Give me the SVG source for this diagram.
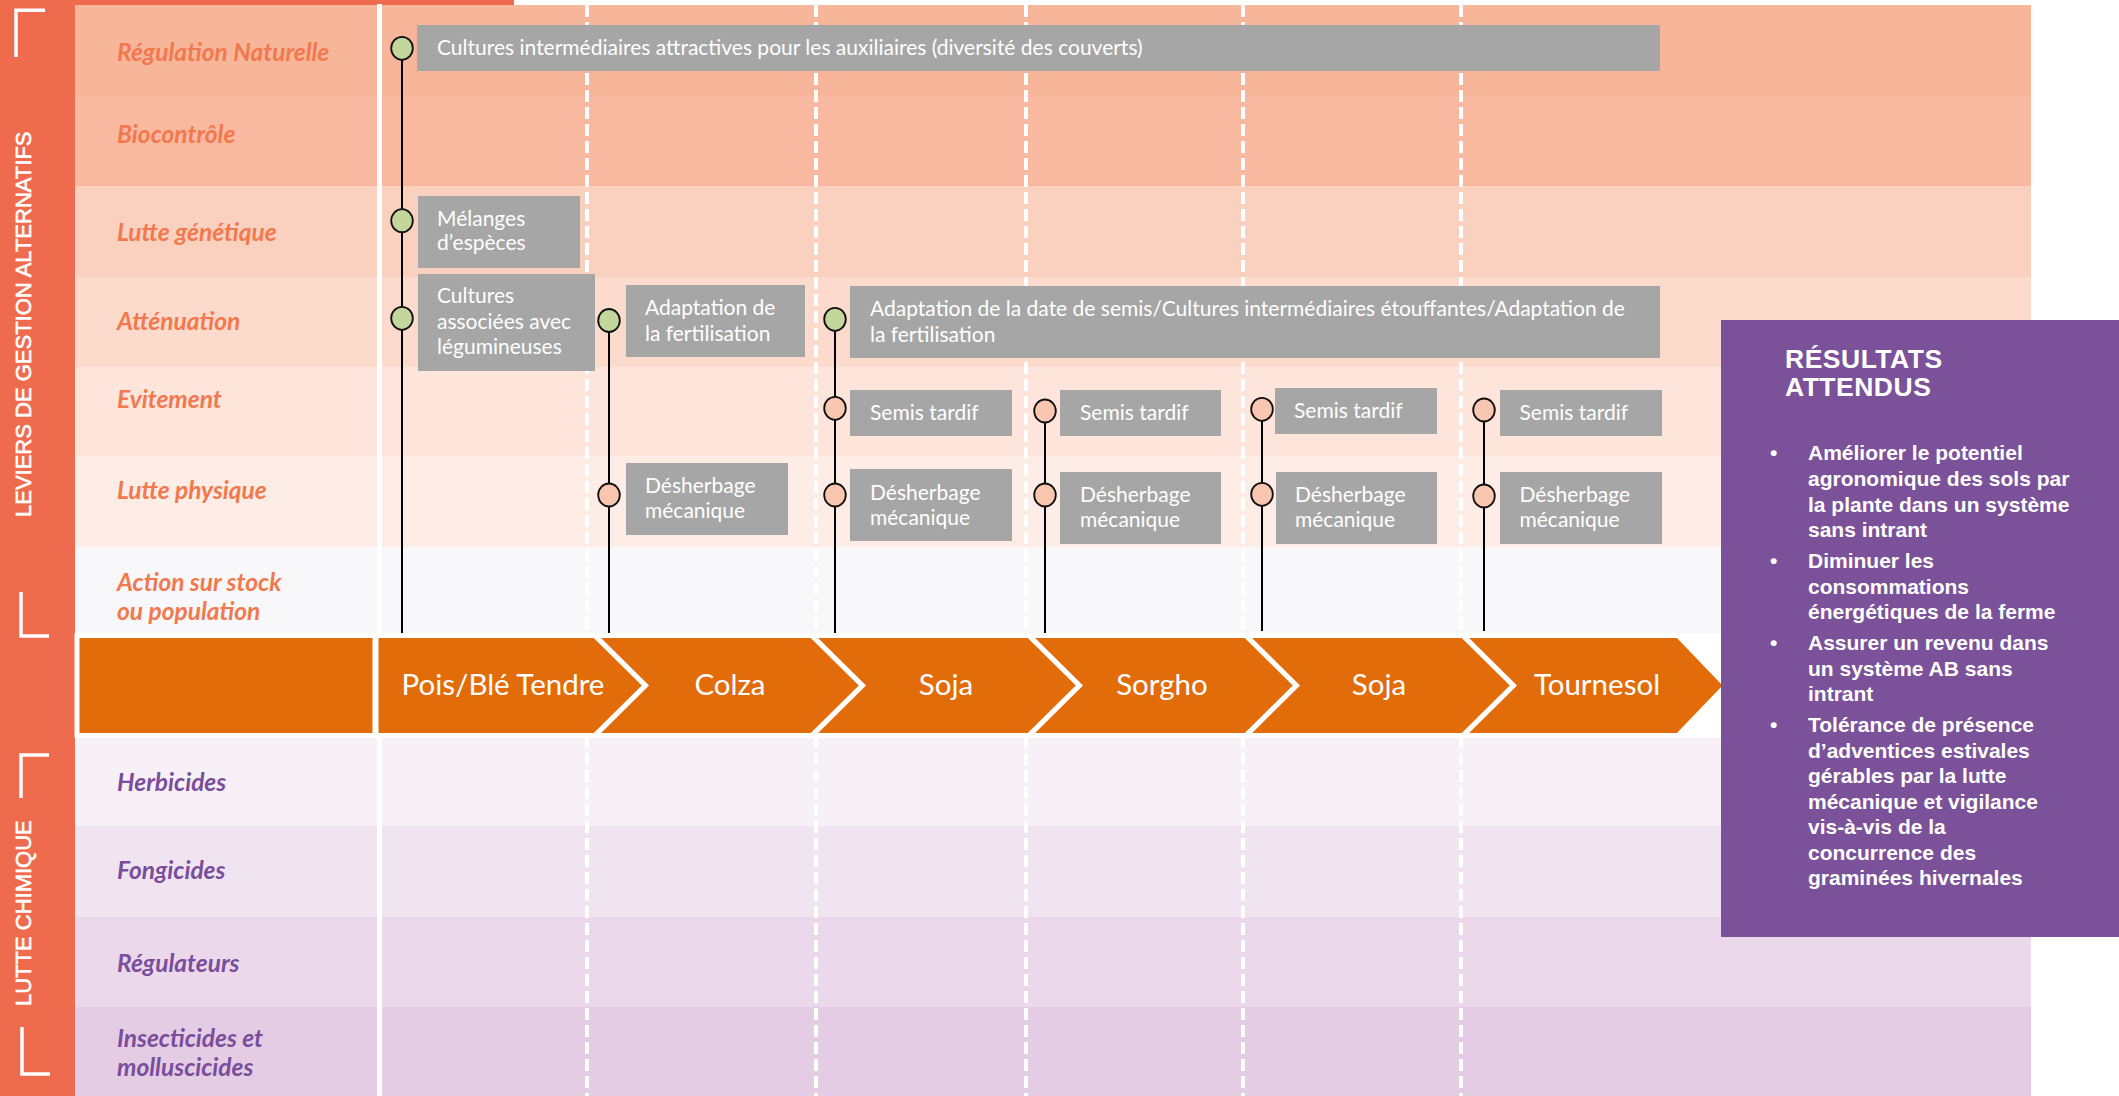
<svg xmlns="http://www.w3.org/2000/svg" width="2119" height="1096" viewBox="0 0 2119 1096">
  <defs>
    <style>
      .lbl{font-family:Lato,"Liberation Sans",sans-serif;font-style:italic;font-weight:700;font-size:24.5px}
      .lo{fill:#F2784E}
      .lp{fill:#7A4E9C}
      .box{fill:#A6A6A6}
      .bt{font-family:Lato,"Liberation Sans",sans-serif;font-size:21px;fill:#FFFFFF}
      .chev{fill:#E36C0A;stroke:#FFFFFF;stroke-width:5;stroke-linejoin:miter}
      .ct{font-family:Lato,"Liberation Sans",sans-serif;font-size:29.5px;fill:#FFFFFF;text-anchor:middle}
      .stem{stroke:#000000;stroke-width:2}
      .dg{fill:#C3D69B;stroke:#111111;stroke-width:1.8}
      .dp{fill:#F9C6AF;stroke:#111111;stroke-width:1.8}
      .side{font-family:"Liberation Sans",sans-serif;font-size:22px;fill:#FFFFFF;stroke:#FFFFFF;stroke-width:0.6}
      .brk{fill:none;stroke:#FFFFFF;stroke-width:3.5}
      .dash{stroke:#FFFFFF;stroke-width:4;stroke-dasharray:12 5}
      .res{font-family:"Liberation Sans",Arial,sans-serif;font-weight:700;fill:#FFFFFF}
    </style>
  </defs>

  <rect x="0" y="0" width="2119" height="1096" fill="#FFFFFF"/>

  <!-- row bands -->
  <g id="bands">
    <rect x="75" y="5" width="1956" height="91" fill="#F7B69A"/>
    <rect x="75" y="96" width="1956" height="90" fill="#F8B9A0"/>
    <rect x="75" y="186" width="1956" height="91" fill="#FAD0BF"/>
    <rect x="75" y="277" width="1956" height="90" fill="#FCDBCC"/>
    <rect x="75" y="367" width="1956" height="89" fill="#FDE5DC"/>
    <rect x="75" y="456" width="1956" height="91" fill="#FDEDE6"/>
    <rect x="75" y="547" width="1956" height="86" fill="#F8F7F9"/>
    <rect x="75" y="738" width="1956" height="88" fill="#F7F0F7"/>
    <rect x="75" y="826" width="1956" height="91" fill="#F1E4F1"/>
    <rect x="75" y="917" width="1956" height="90" fill="#EBD9EB"/>
    <rect x="75" y="1007" width="1956" height="89" fill="#E4CCE4"/>
  </g>

  <!-- left side bar -->
  <g id="sidebar">
    <rect x="0" y="0" width="75" height="1096" fill="#EE6B4D"/>
    <rect x="0" y="0" width="514" height="5" fill="#EE6B4D"/>
    <path class="brk" d="M45,10.3 H16 V57"/>
    <path class="brk" d="M21,592 V636 H49"/>
    <path class="brk" d="M49,755 H21 V798"/>
    <path class="brk" d="M22,1027 V1074 H50"/>
    <text class="side" transform="translate(30.5,517) rotate(-90)">LEVIERS DE GESTION ALTERNATIFS</text>
    <text class="side" transform="translate(31,1006) rotate(-90)">LUTTE CHIMIQUE</text>
  </g>

  <!-- season dividers -->
  <g id="dividers">
    <line class="dash" x1="587" y1="5" x2="587" y2="1096"/>
    <line class="dash" x1="816" y1="5" x2="816" y2="1096"/>
    <line class="dash" x1="1026" y1="5" x2="1026" y2="1096"/>
    <line class="dash" x1="1243" y1="5" x2="1243" y2="1096"/>
    <line class="dash" x1="1461" y1="5" x2="1461" y2="1096"/>
    <line x1="379.5" y1="4" x2="379.5" y2="1096" stroke="#FFFFFF" stroke-width="5"/>
  </g>

  <!-- row labels -->
  <g id="labels">
    <text class="lbl lo" x="117" y="61">Régulation Naturelle</text>
    <text class="lbl lo" x="117" y="142.5">Biocontrôle</text>
    <text class="lbl lo" x="117" y="240.5">Lutte génétique</text>
    <text class="lbl lo" x="117" y="330">Atténuation</text>
    <text class="lbl lo" x="117" y="407.5">Evitement</text>
    <text class="lbl lo" x="117" y="499">Lutte physique</text>
    <text class="lbl lo" x="117" y="590.5">Action sur stock</text>
    <text class="lbl lo" x="117" y="619.5">ou population</text>
    <text class="lbl lp" x="117" y="790.5">Herbicides</text>
    <text class="lbl lp" x="117" y="878.5">Fongicides</text>
    <text class="lbl lp" x="117" y="971.5">Régulateurs</text>
    <text class="lbl lp" x="117" y="1047">Insecticides et</text>
    <text class="lbl lp" x="117" y="1076">molluscicides</text>
  </g>

  <!-- crop rotation -->
  <g id="rotation">
    <rect x="75" y="633" width="1956" height="105" fill="#FFFFFF"/>
    <rect class="chev" x="77" y="635.5" width="298" height="100"/>
    <g id="crop-pois-ble">
      <polygon class="chev" points="376,635.5 595,635.5 645.5,685.5 595,735.5 376,735.5"/>
      <text class="ct" x="503" y="695">Pois/Blé Tendre</text>
    </g>
    <g id="crop-colza">
      <polygon class="chev" points="595,635.5 812,635.5 862.5,685.5 812,735.5 595,735.5 645.5,685.5"/>
      <text class="ct" x="730" y="695">Colza</text>
    </g>
    <g id="crop-soja-1">
      <polygon class="chev" points="812,635.5 1029,635.5 1079.5,685.5 1029,735.5 812,735.5 862.5,685.5"/>
      <text class="ct" x="946" y="695">Soja</text>
    </g>
    <g id="crop-sorgho">
      <polygon class="chev" points="1029,635.5 1246,635.5 1296.5,685.5 1246,735.5 1029,735.5 1079.5,685.5"/>
      <text class="ct" x="1162" y="695">Sorgho</text>
    </g>
    <g id="crop-soja-2">
      <polygon class="chev" points="1246,635.5 1463,635.5 1513.5,685.5 1463,735.5 1246,735.5 1296.5,685.5"/>
      <text class="ct" x="1379" y="695">Soja</text>
    </g>
    <g id="crop-tournesol">
      <polygon class="chev" points="1463,635.5 1678,635.5 1726,685.5 1678,735.5 1463,735.5 1513.5,685.5"/>
      <text class="ct" x="1597" y="695">Tournesol</text>
    </g>
  </g>

  <!-- practice boxes -->
  <g id="n-cultures-intermediaires">
    <rect class="box" x="417" y="25" width="1243" height="46"/>
    <text class="bt" x="437" y="54.5">Cultures intermédiaires attractives pour les auxiliaires (diversité des couverts)</text>
  </g>
  <g id="n-melanges">
    <rect class="box" x="418" y="196" width="162" height="72"/>
    <text class="bt" x="437" y="226">Mélanges</text>
    <text class="bt" x="437" y="250">d’espèces</text>
  </g>
  <g id="n-cultures-associees">
    <rect class="box" x="418" y="274" width="177" height="97"/>
    <text class="bt" x="437" y="303">Cultures</text>
    <text class="bt" x="437" y="329">associées avec</text>
    <text class="bt" x="437" y="354">légumineuses</text>
  </g>
  <g id="n-fertilisation-colza">
    <rect class="box" x="626" y="285" width="179" height="72"/>
    <text class="bt" x="645" y="315">Adaptation de</text>
    <text class="bt" x="645" y="340.5">la fertilisation</text>
  </g>
  <g id="n-adaptation-semis">
    <rect class="box" x="850" y="286" width="810" height="72"/>
    <text class="bt" x="870" y="316">Adaptation de la date de semis/Cultures intermédiaires étouffantes/Adaptation de</text>
    <text class="bt" x="870" y="341.5">la fertilisation</text>
  </g>
  <g id="n-semis-soja-1">
    <rect class="box" x="850" y="390" width="162" height="46"/>
    <text class="bt" x="870" y="420">Semis tardif</text>
  </g>
  <g id="n-semis-sorgho">
    <rect class="box" x="1060" y="390" width="161" height="46"/>
    <text class="bt" x="1080" y="420">Semis tardif</text>
  </g>
  <g id="n-semis-soja-2">
    <rect class="box" x="1275" y="388" width="162" height="46"/>
    <text class="bt" x="1294" y="418">Semis tardif</text>
  </g>
  <g id="n-semis-tournesol">
    <rect class="box" x="1500" y="390" width="162" height="46"/>
    <text class="bt" x="1519.5" y="420">Semis tardif</text>
  </g>
  <g id="n-desherbage-colza">
    <rect class="box" x="626" y="463" width="162" height="72"/>
    <text class="bt" x="645" y="493">Désherbage</text>
    <text class="bt" x="645" y="518">mécanique</text>
  </g>
  <g id="n-desherbage-soja-1">
    <rect class="box" x="850" y="469" width="162" height="72"/>
    <text class="bt" x="870" y="500">Désherbage</text>
    <text class="bt" x="870" y="524.5">mécanique</text>
  </g>
  <g id="n-desherbage-sorgho">
    <rect class="box" x="1060" y="472" width="161" height="72"/>
    <text class="bt" x="1080" y="502">Désherbage</text>
    <text class="bt" x="1080" y="527">mécanique</text>
  </g>
  <g id="n-desherbage-soja-2">
    <rect class="box" x="1276" y="472" width="161" height="72"/>
    <text class="bt" x="1295" y="502">Désherbage</text>
    <text class="bt" x="1295" y="527">mécanique</text>
  </g>
  <g id="n-desherbage-tournesol">
    <rect class="box" x="1500" y="472" width="162" height="72"/>
    <text class="bt" x="1519.5" y="502">Désherbage</text>
    <text class="bt" x="1519.5" y="527">mécanique</text>
  </g>

  <!-- connectors: stems from each crop up to its practices -->
  <g id="connectors">
    <line class="stem" x1="402" y1="48" x2="402" y2="633"/>
    <line class="stem" x1="609" y1="320" x2="609" y2="633"/>
    <line class="stem" x1="835" y1="319" x2="835" y2="633"/>
    <line class="stem" x1="1045" y1="411" x2="1045" y2="633"/>
    <line class="stem" x1="1262" y1="409" x2="1262" y2="631"/>
    <line class="stem" x1="1484" y1="410" x2="1484" y2="631"/>
  </g>

  <!-- milestone markers -->
  <g id="markers">
    <ellipse class="dg" cx="402" cy="48.3" rx="10.8" ry="11.5"/>
    <ellipse class="dg" cx="402" cy="220.7" rx="10.8" ry="11.5"/>
    <ellipse class="dg" cx="402" cy="318.3" rx="10.8" ry="11.5"/>
    <ellipse class="dg" cx="609" cy="320.5" rx="10.8" ry="11.5"/>
    <ellipse class="dp" cx="609" cy="495" rx="10.8" ry="11.5"/>
    <ellipse class="dg" cx="835" cy="319.3" rx="10.8" ry="11.5"/>
    <ellipse class="dp" cx="835" cy="408.3" rx="10.8" ry="11.5"/>
    <ellipse class="dp" cx="835" cy="495" rx="10.8" ry="11.5"/>
    <ellipse class="dp" cx="1045" cy="411" rx="10.8" ry="11.5"/>
    <ellipse class="dp" cx="1045" cy="495" rx="10.8" ry="11.5"/>
    <ellipse class="dp" cx="1262" cy="409.3" rx="10.8" ry="11.5"/>
    <ellipse class="dp" cx="1262" cy="494.3" rx="10.8" ry="11.5"/>
    <ellipse class="dp" cx="1484" cy="410" rx="10.8" ry="11.5"/>
    <ellipse class="dp" cx="1484" cy="496" rx="10.8" ry="11.5"/>
  </g>

  <!-- expected results panel -->
  <g id="n-resultats">
    <rect x="1721" y="320" width="398" height="617" fill="#7B5299"/>
    <text class="res" font-size="26.5" letter-spacing="0.5" x="1785" y="367.5">RÉSULTATS</text>
    <text class="res" font-size="26.5" letter-spacing="0.5" x="1785" y="396">ATTENDUS</text>
    <g class="res" font-size="21">
      <text x="1770" y="460">•</text>
      <text x="1808" y="460">Améliorer le potentiel</text>
      <text x="1808" y="486">agronomique des sols par</text>
      <text x="1808" y="511.5">la plante dans un système</text>
      <text x="1808" y="537">sans intrant</text>
      <text x="1770" y="568">•</text>
      <text x="1808" y="568">Diminuer les</text>
      <text x="1808" y="593.5">consommations</text>
      <text x="1808" y="619">énergétiques de la ferme</text>
      <text x="1770" y="650">•</text>
      <text x="1808" y="650">Assurer un revenu dans</text>
      <text x="1808" y="675.5">un système AB sans</text>
      <text x="1808" y="701">intrant</text>
      <text x="1770" y="732">•</text>
      <text x="1808" y="732">Tolérance de présence</text>
      <text x="1808" y="757.5">d’adventices estivales</text>
      <text x="1808" y="783">gérables par la lutte</text>
      <text x="1808" y="808.5">mécanique et vigilance</text>
      <text x="1808" y="834">vis-à-vis de la</text>
      <text x="1808" y="859.5">concurrence des</text>
      <text x="1808" y="885">graminées hivernales</text>
    </g>
  </g>
</svg>
